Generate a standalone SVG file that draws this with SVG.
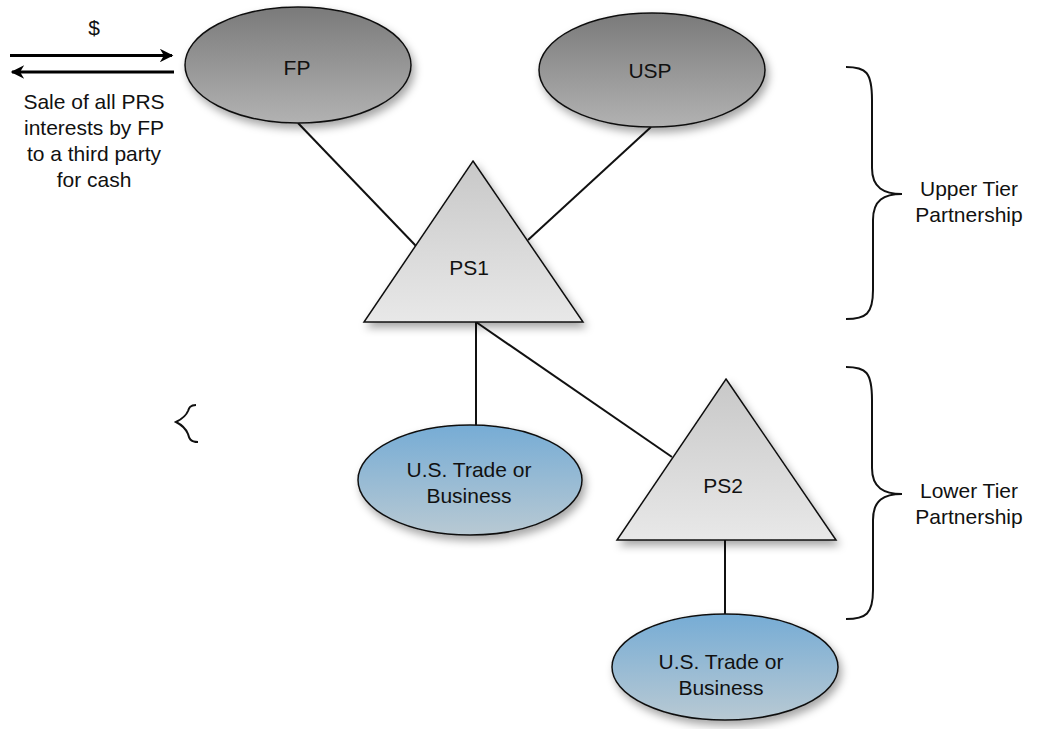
<svg xmlns="http://www.w3.org/2000/svg" width="1038" height="729" viewBox="0 0 1038 729">
  <defs>
    <linearGradient id="gGray" x1="0" y1="0" x2="0" y2="1">
      <stop offset="0" stop-color="#7a7a7a"/>
      <stop offset="1" stop-color="#b2b2b2"/>
    </linearGradient>
    <linearGradient id="gBlue" x1="0" y1="0" x2="0" y2="1">
      <stop offset="0" stop-color="#76acd5"/>
      <stop offset="1" stop-color="#b8c9d3"/>
    </linearGradient>
    <linearGradient id="gTri" x1="0" y1="0" x2="0" y2="1">
      <stop offset="0" stop-color="#c8c8c8"/>
      <stop offset="1" stop-color="#e8e8e8"/>
    </linearGradient>
    <filter id="shadow" x="-20%" y="-20%" width="150%" height="150%">
      <feDropShadow dx="3" dy="5" stdDeviation="4" flood-color="#000" flood-opacity="0.35"/>
    </filter>
    <marker id="arrow" viewBox="0 0 10 10" refX="9" refY="5" markerWidth="6" markerHeight="4.5" orient="auto" markerUnits="strokeWidth">
      <path d="M0,0 L10,5 L0,10 L3,5 z" fill="#000"/>
    </marker>
  </defs>
  <style>
    text { font-family: "Liberation Sans", Arial, sans-serif; font-size: 21px; fill: #111; text-anchor: middle; }
    .node { stroke: #111; stroke-width: 1.5; }
    .conn { stroke: #111; stroke-width: 2; fill: none; }
    .brace { stroke: #111; stroke-width: 2; fill: none; }
    .flow { stroke: #000; stroke-width: 3; fill: none; }
  </style>

  <g id="connectors">
    <line class="conn" x1="298" y1="123" x2="416" y2="246"/>
    <line class="conn" x1="651" y1="127" x2="528" y2="240"/>
    <line class="conn" x1="476" y1="322" x2="476" y2="425"/>
    <line class="conn" x1="476" y1="322" x2="672" y2="457"/>
    <line class="conn" x1="725" y1="540" x2="725" y2="615"/>
  </g>

  <g id="flow-arrows">
    <line class="flow" x1="10" y1="55.5" x2="172" y2="55.5" marker-end="url(#arrow)"/>
    <line class="flow" x1="174" y1="72" x2="12" y2="72" marker-end="url(#arrow)"/>
    <text x="94" y="35">$</text>
    <text x="94" y="109">Sale of all PRS</text>
    <text x="94" y="135">interests by FP</text>
    <text x="94" y="161">to a third party</text>
    <text x="94" y="187">for cash</text>
  </g>

  <g id="FP">
    <ellipse class="node" cx="298" cy="65" rx="113" ry="58" fill="url(#gGray)" filter="url(#shadow)"/>
    <text x="297" y="75">FP</text>
  </g>

  <g id="USP">
    <ellipse class="node" cx="652" cy="70" rx="113" ry="57" fill="url(#gGray)" filter="url(#shadow)"/>
    <text x="650" y="78">USP</text>
  </g>

  <g id="PS1">
    <polygon class="node" points="473,161 583,322 364,322" fill="url(#gTri)" filter="url(#shadow)"/>
    <text x="469" y="275">PS1</text>
  </g>

  <g id="USTB1">
    <ellipse class="node" cx="470" cy="480" rx="112" ry="55" fill="url(#gBlue)" filter="url(#shadow)"/>
    <text x="469" y="477">U.S. Trade or</text>
    <text x="469" y="503">Business</text>
  </g>

  <g id="PS2">
    <polygon class="node" points="726,379 836,540 617,540" fill="url(#gTri)" filter="url(#shadow)"/>
    <text x="723" y="493">PS2</text>
  </g>

  <g id="USTB2">
    <ellipse class="node" cx="725" cy="667" rx="113" ry="53" fill="url(#gBlue)" filter="url(#shadow)"/>
    <text x="721" y="669">U.S. Trade or</text>
    <text x="721" y="695">Business</text>
  </g>

  <g id="upper-tier">
    <path class="brace" d="M846,67 C866,67 872,72 872,100 L872,168 C872,188 884,194 902,194 C884,194 873,200 873,220 L873,290 C873,314 866,319 846,319"/>
    <text x="969" y="196">Upper Tier</text>
    <text x="969" y="222">Partnership</text>
  </g>

  <g id="lower-tier">
    <path class="brace" d="M846,367 C866,367 872,372 872,400 L872,468 C872,488 884,494 902,494 C884,494 873,500 873,520 L873,590 C873,614 866,619 846,619"/>
    <text x="969" y="498">Lower Tier</text>
    <text x="969" y="524">Partnership</text>
  </g>

  <g id="small-brace">
    <path class="brace" d="M196,405 C190,405 189,408 188,411 C186,416 182,419 176,422 C182,425 186,429 188,434 C189,438 190,442 198,442" stroke-width="1.5"/>
  </g>
</svg>
